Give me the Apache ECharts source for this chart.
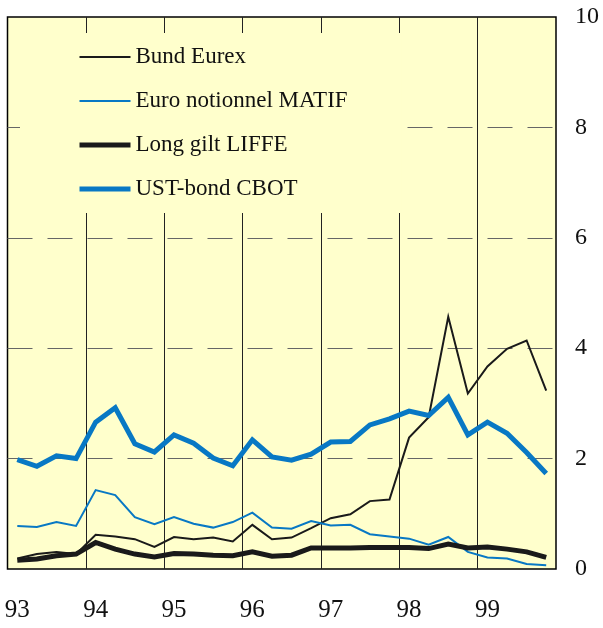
<!DOCTYPE html>
<html>
<head>
<meta charset="utf-8">
<script src="https://cdn.jsdelivr.net/npm/echarts@6/dist/echarts.min.js"></script>
<style>
  html, body { margin: 0; padding: 0; background: #fff; }
  #chart { width: 603px; height: 628px; }
</style>
</head>
<body>
<div id="chart"></div>
<script>
// quarterly data, 93Q1 .. 99Q4
const years = ['93', '94', '95', '96', '97', '98', '99'];
const quarters = [];
years.forEach(y => { for (let q = 1; q <= 4; q++) quarters.push(y + 'Q' + q); });

const bundEurex = [0.19, 0.27, 0.31, 0.27, 0.62, 0.59, 0.54, 0.40, 0.58, 0.54, 0.57, 0.50, 0.80, 0.54,
                   0.57, 0.74, 0.92, 0.99, 1.23, 1.26, 2.38, 2.75, 4.57, 3.18, 3.67, 3.99, 4.14, 3.23];
const euroMatif = [0.78, 0.76, 0.85, 0.78, 1.43, 1.34, 0.94, 0.81, 0.94, 0.82, 0.75, 0.85, 1.02, 0.75,
                   0.73, 0.87, 0.79, 0.80, 0.63, 0.59, 0.55, 0.44, 0.58, 0.31, 0.21, 0.19, 0.09, 0.07];
const longGilt = [0.16, 0.18, 0.24, 0.27, 0.48, 0.36, 0.27, 0.22, 0.28, 0.27, 0.25, 0.24, 0.31, 0.23,
                  0.25, 0.38, 0.38, 0.38, 0.39, 0.39, 0.39, 0.37, 0.45, 0.38, 0.40, 0.36, 0.31, 0.21];
const ustBond = [1.98, 1.86, 2.05, 2.00, 2.66, 2.92, 2.27, 2.12, 2.43, 2.28, 2.01, 1.87, 2.34, 2.03,
                 1.97, 2.08, 2.30, 2.31, 2.61, 2.72, 2.86, 2.78, 3.11, 2.43, 2.66, 2.46, 2.11, 1.73];

const serif = "'Liberation Serif', 'Times New Roman', serif";
const bg = '#FFFFCC';
const black = '#1a1a1a';
const blue = '#0878C4';

const seriesDefs = [
  { name: 'Bund Eurex', data: bundEurex, color: black, width: 2 },
  { name: 'Euro notionnel MATIF', data: euroMatif, color: blue, width: 2 },
  { name: 'Long gilt LIFFE', data: longGilt, color: black, width: 5 },
  { name: 'UST-bond CBOT', data: ustBond, color: blue, width: 5 }
];

const chart = echarts.init(document.getElementById('chart'));
chart.setOption({
  animation: false,
  backgroundColor: '#fff',
  grid: {
    left: 7.5, right: 47, top: 17, bottom: 59,
    show: true,
    backgroundColor: bg,
    borderColor: '#000',
    borderWidth: 1.5
  },
  legend: {
    orient: 'vertical',
    left: 20,
    top: 33,
    padding: [12, 54, 12, 57],
    backgroundColor: bg,
    itemWidth: 51,
    itemHeight: 24,
    itemGap: 20,
    textStyle: { fontFamily: serif, fontSize: 23, lineHeight: 24, color: '#111' },
    data: seriesDefs.map(s => ({
      name: s.name,
      // hide the marker, keep only the line
      itemStyle: { opacity: 0, borderWidth: 0 },
      lineStyle: { width: s.width, color: s.color }
    }))
  },
  xAxis: {
    type: 'category',
    data: quarters,
    boundaryGap: true,
    axisLine: { show: false },
    axisTick: { show: false, interval: 3 },
    axisLabel: {
      interval: 3,
      margin: 29,
      fontFamily: serif,
      fontSize: 25,
      color: '#111',
      formatter: v => v.slice(0, 2)
    },
    splitLine: {
      show: true,
      interval: 3,
      showMinLine: false,
      showMaxLine: false,
      lineStyle: { color: '#222', width: 1 }
    }
  },
  yAxis: {
    type: 'value',
    position: 'right',
    min: 0,
    max: 10,
    interval: 2,
    axisLine: { show: false },
    axisTick: { show: false },
    axisLabel: { margin: 19, fontFamily: serif, fontSize: 24, color: '#111' },
    splitLine: {
      show: true,
      showMinLine: false,
      showMaxLine: false,
      lineStyle: { color: '#666', width: 1.2, type: [25, 15] }
    }
  },
  series: seriesDefs.map(s => ({
    name: s.name,
    type: 'line',
    data: s.data,
    symbol: 'none',
    lineStyle: { color: s.color, width: s.width, join: 'miter' },
    itemStyle: { color: s.color }
  }))
});
</script>
</body>
</html>
